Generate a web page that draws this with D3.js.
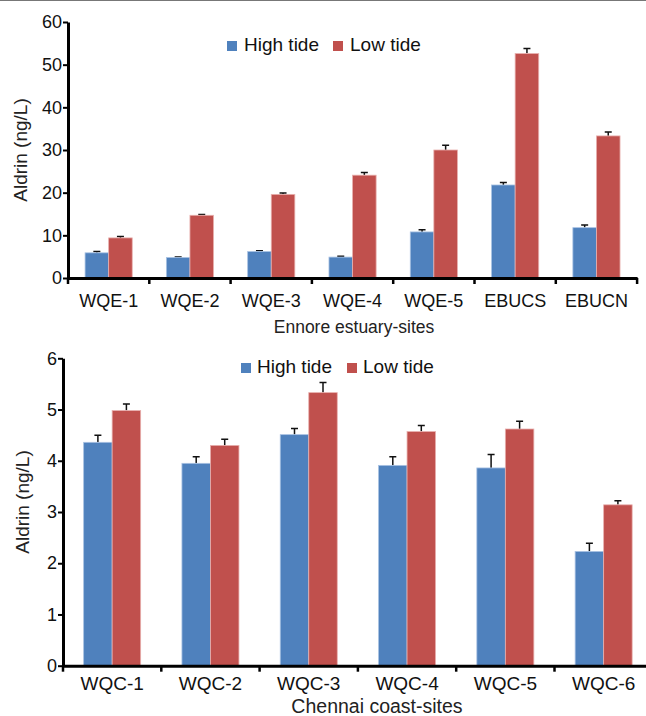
<!DOCTYPE html>
<html>
<head>
<meta charset="utf-8">
<script src="https://cdn.jsdelivr.net/npm/d3@7"></script>
<style>
  body { margin: 0; background: #fff; }
  svg { display: block; font-family: "Liberation Sans", Arial, sans-serif; }
</style>
</head>
<body>
<div id="chart"></div>
<script>
// Ennore estuary
const ennoreSites = ['WQE-1', 'WQE-2', 'WQE-3', 'WQE-4', 'WQE-5', 'EBUCS', 'EBUCN'];
const ennoreHigh = [5.9, 4.8, 6.2, 4.9, 10.8, 21.8, 11.8];
const ennoreHighErr = [0.3, 0.15, 0.2, 0.2, 0.5, 0.6, 0.6];
const ennoreLow = [9.4, 14.7, 19.6, 24.1, 30.0, 52.6, 33.3];
const ennoreLowErr = [0.3, 0.2, 0.3, 0.6, 1.1, 1.2, 0.9];
const ennoreTicks = [0, 10, 20, 30, 40, 50, 60];

// Chennai coast
const chennaiSites = ['WQC-1', 'WQC-2', 'WQC-3', 'WQC-4', 'WQC-5', 'WQC-6'];
const chennaiHigh = [4.36, 3.95, 4.51, 3.91, 3.86, 2.23];
const chennaiHighErr = [0.14, 0.13, 0.12, 0.17, 0.26, 0.16];
const chennaiLow = [4.98, 4.30, 5.33, 4.57, 4.62, 3.14];
const chennaiLowErr = [0.13, 0.12, 0.2, 0.12, 0.15, 0.08];
const chennaiTicks = [0, 1, 2, 3, 4, 5, 6];

const seriesNames = ['High tide', 'Low tide'];
const colors = ['#4f81bd', '#c0504d'];
const edges = ['#a9c2e3', '#e8b0ae'];

const W = 646, H = 716;
const svg = d3.select('#chart').append('svg')
    .attr('width', W)
    .attr('height', H);

// thin rule at the very top
svg.append('line')
    .attr('x1', 0).attr('x2', W)
    .attr('y1', 0.5).attr('y2', 0.5)
    .attr('stroke', '#777').attr('stroke-width', 1);

const panel = (opt) => {
    let g = svg.append('g'),
    x0 = d3.scaleBand()
        .domain(opt.sites)
        .range([opt.left, opt.left + opt.band * opt.sites.length]),
    bw = x0.bandwidth(),
    x1 = d3.scaleBand()
        .domain([0, 1])
        .range([bw * 0.21, bw * 0.79]),
    y = d3.scaleLinear()
        .domain([0, opt.max])
        .range([opt.bottom, opt.top])

    const rows = opt.sites.map((s, i) => ({
        site: s,
        vals: [
            { k: 0, v: opt.high[i], e: opt.highErr[i] },
            { k: 1, v: opt.low[i], e: opt.lowErr[i] }
        ]
    }));

    const groups = g.selectAll('.grp')
        .data(rows)
        .enter()
        .append('g')
        .attr('transform', d => 'translate(' + x0(d.site) + ',0)');

    // error bars first (only upper part shows above bar)
    groups.selectAll('.err')
        .data(d => d.vals)
        .enter()
        .append('path')
        .attr('d', d => {
            const cx = x1(d.k) + x1.bandwidth() / 2;
            const yt = y(d.v + d.e);
            return 'M' + cx + ',' + y(d.v) + 'V' + yt + 'M' + (cx - 3.5) + ',' + yt + 'H' + (cx + 3.5);
        })
        .attr('stroke', '#111')
        .attr('stroke-width', 1.5)
        .attr('fill', 'none');

    groups.selectAll('rect')
        .data(d => d.vals)
        .enter()
        .append('rect')
        .attr('x', d => x1(d.k))
        .attr('y', d => y(d.v))
        .attr('width', x1.bandwidth())
        .attr('height', d => y(0) - y(d.v))
        .attr('fill', d => colors[d.k])
        .attr('stroke', d => edges[d.k])
        .attr('stroke-width', 0.8);

    // y axis
    const ya = g.append('g')
        .attr('transform', 'translate(' + opt.left + ',0)')
        .call(d3.axisLeft(y).tickValues(opt.ticks).tickFormat(d3.format('d'))
            .tickSize(5).tickPadding(1).tickSizeOuter(0));
    ya.select('.domain').attr('stroke', '#000').attr('stroke-width', 3);
    ya.selectAll('.tick line').attr('stroke', '#000').attr('stroke-width', 2);
    ya.selectAll('.tick text')
        .attr('font-size', 18)
        .attr('fill', '#111')
        .attr('font-family', '"Liberation Sans", Arial, sans-serif');

    // x axis
    const xa = g.append('g')
        .attr('transform', 'translate(0,' + opt.bottom + ')')
        .call(d3.axisBottom(x0).tickSize(0).tickPadding(opt.labelPad));
    xa.select('.domain').attr('stroke', '#000').attr('stroke-width', 3);
    xa.selectAll('.tick text')
        .attr('font-size', opt.tickFont)
        .attr('fill', '#111')
        .attr('font-family', '"Liberation Sans", Arial, sans-serif');

    // category separators
    const seps = d3.range(opt.sites.length + 1).map(i => opt.left + i * bw);
    g.selectAll('.sep')
        .data(seps)
        .enter()
        .append('line')
        .attr('x1', d => d).attr('x2', d => d)
        .attr('y1', opt.bottom).attr('y2', opt.bottom + 6)
        .attr('stroke', '#000')
        .attr('stroke-width', 2.5);

    // titles
    g.append('text')
        .attr('x', opt.xTitleX)
        .attr('y', opt.xTitleY)
        .attr('text-anchor', 'middle')
        .attr('font-size', opt.titleFont)
        .attr('fill', '#222')
        .text(opt.xTitle);

    g.append('text')
        .attr('transform', 'translate(' + opt.yTitleX + ',' + opt.yTitleY + ') rotate(-90)')
        .attr('text-anchor', 'middle')
        .attr('font-size', 19)
        .attr('fill', '#222')
        .text('Aldrin (ng/L)');

    // legend
    const lg = g.selectAll('.leg')
        .data(seriesNames)
        .enter()
        .append('g')
        .attr('transform', (d, i) => 'translate(' + opt.legX[i] + ',' + opt.legY + ')');
    lg.append('rect')
        .attr('x', 0).attr('y', -10)
        .attr('width', 10).attr('height', 10)
        .attr('fill', (d, i) => colors[i]);
    lg.append('text')
        .attr('x', opt.legGap)
        .attr('y', 0)
        .attr('font-size', 19)
        .attr('fill', '#111')
        .text(d => d);
}

panel({
    sites: ennoreSites, high: ennoreHigh, highErr: ennoreHighErr,
    low: ennoreLow, lowErr: ennoreLowErr, ticks: ennoreTicks, max: 60,
    left: 68, band: 81.3, top: 22, bottom: 278, labelPad: 16, tickFont: 18,
    xTitle: 'Ennore estuary-sites', xTitleX: 354, xTitleY: 333, titleFont: 17.5,
    yTitleX: 27, yTitleY: 150,
    legX: [227, 333], legY: 51, legGap: 17
});

panel({
    sites: chennaiSites, high: chennaiHigh, highErr: chennaiHighErr,
    low: chennaiLow, lowErr: chennaiLowErr, ticks: chennaiTicks, max: 6,
    left: 63, band: 98.3, top: 358.3, bottom: 665.7, labelPad: 11, tickFont: 19,
    xTitle: 'Chennai coast-sites', xTitleX: 377, xTitleY: 713, titleFont: 19.5,
    yTitleX: 29, yTitleY: 502,
    legX: [241, 347], legY: 373, legGap: 16
});
</script>
</body>
</html>
